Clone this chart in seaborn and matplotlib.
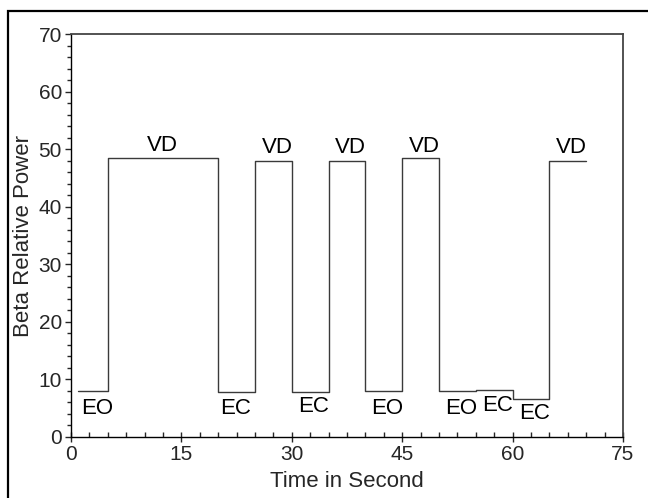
import numpy as np
import pandas as pd
import matplotlib.pyplot as plt
import seaborn as sns
from matplotlib.patches import Rectangle
from matplotlib.ticker import MultipleLocator

# --- Dados do sinal (função degrau) ---
tempo = [1, 5, 20, 25, 30, 35, 40, 45, 50, 55, 60, 65, 70]
potencia_beta = [8.0, 48.5, 7.8, 48.0, 7.8, 48.0, 8.0, 48.5, 8.0, 8.2, 6.6, 48.0, 48.0]

# Rótulos dos estados (texto, x, y)
rotulos_texto = ['VD', 'VD', 'VD', 'VD', 'VD', 'EO', 'EC', 'EC', 'EO', 'EO', 'EC', 'EC']
rotulos_x = [12.4, 28.0, 38.0, 48.0, 68.0, 3.6, 22.4, 33.0, 43.0, 53.0, 58.0, 63.0]
rotulos_y = [49.6, 49.4, 49.4, 49.5, 49.4, 5.0, 5.0, 5.3, 5.0, 5.0, 5.4, 4.0]

df = pd.DataFrame({'Tempo': tempo, 'Potencia': potencia_beta})

sns.set_style("ticks")
plt.rcParams['font.family'] = ['Liberation Sans', 'DejaVu Sans']

fig = plt.figure(figsize=(6.48, 4.98), dpi=100)
ax = fig.add_axes([0.1096, 0.1225, 0.8518, 0.8092])

# Curva em degraus
sns.lineplot(data=df, x='Tempo', y='Potencia', ax=ax, drawstyle='steps-post',
             color='#3a3a3a', linewidth=1.0)

for txt, x, y in zip(rotulos_texto, rotulos_x, rotulos_y):
    va = 'baseline' if txt == 'VD' else 'center'
    ax.text(x, y, txt, ha='center', va=va, fontsize=16, color='black')

ax.set_xlim(0, 75)
ax.set_ylim(0, 70)
ax.xaxis.set_major_locator(MultipleLocator(15))
ax.xaxis.set_minor_locator(MultipleLocator(2.5))
ax.yaxis.set_major_locator(MultipleLocator(10))
ax.yaxis.set_minor_locator(MultipleLocator(2))

ax.tick_params(axis='x', which='major', direction='inout', length=7, width=1,
               labelsize=15, pad=2)
ax.tick_params(axis='x', which='minor', direction='in', length=3.5, width=1)
ax.tick_params(axis='y', which='major', direction='out', length=4.5, width=1,
               labelsize=15, pad=2)
ax.tick_params(axis='y', which='minor', direction='out', length=3, width=1)

ax.set_xlabel('Time in Second', fontsize=16, labelpad=5)
ax.set_ylabel('Beta Relative Power', fontsize=16, labelpad=3)

for lado in ['left', 'bottom']:
    ax.spines[lado].set_color('black')
    ax.spines[lado].set_linewidth(1.0)
for lado in ['top', 'right']:
    ax.spines[lado].set_visible(True)
    ax.spines[lado].set_color('#444444')
    ax.spines[lado].set_linewidth(1.3)

# Moldura externa da figura
moldura = Rectangle((8 / 648, -0.05), 1.0, 1 - 11 / 498 + 0.05,
                    transform=fig.transFigure, fill=False, edgecolor='black',
                    linewidth=1.6, clip_on=False)
fig.patches.append(moldura)

fig.savefig('out.png', dpi=100)
